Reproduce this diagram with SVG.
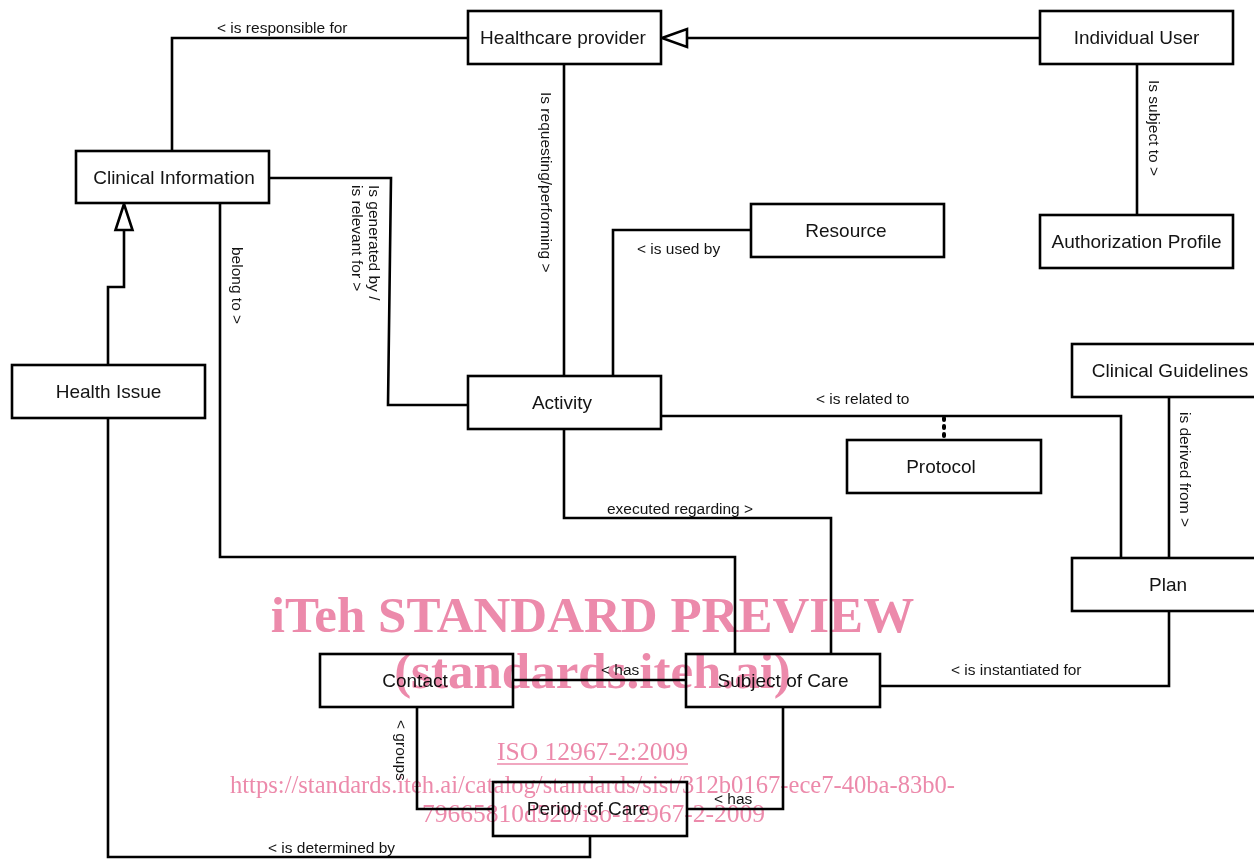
<svg xmlns="http://www.w3.org/2000/svg" width="1254" height="859" viewBox="0 0 1254 859">
  <style>
    .box { fill: #fff; stroke: #000; stroke-width: 2.6; }
    .name { font-family: "Liberation Sans", Arial, sans-serif; font-size: 19px; fill: #141414; text-anchor: middle; }
    .wire { fill: none; stroke: #000; stroke-width: 2.6; stroke-linejoin: miter; stroke-linecap: square; }
    .gen { fill: #fff; stroke: #000; stroke-width: 2.6; stroke-linejoin: miter; }
    .dots { fill: none; stroke: #000; stroke-width: 4; stroke-linecap: round; stroke-dasharray: 2 6; }
    .role { font-family: "Liberation Sans", Arial, sans-serif; font-size: 15.5px; fill: #141414; }
    .wm { font-family: "Liberation Serif", "Times New Roman", serif; fill: #ec8aab; text-anchor: middle; }
  </style>

  <rect width="1254" height="859" fill="#fff"/>

  <!-- associations and generalizations -->
  <g id="connectors">
    <path class="wire" d="M172,151 V38 H468"/>
    <path class="wire" d="M1040,38 H687"/>
    <polygon class="gen" points="662,38 687,29 687,47"/>
    <path class="wire" d="M1137,64 V215"/>
    <path class="wire" d="M564,64 V376"/>
    <path class="wire" d="M751,230 H613 V376"/>
    <path class="wire" d="M269,178 H391 L388,405 H468"/>
    <path class="wire" d="M220,203 V557 H735 V654"/>
    <path class="wire" d="M564,429 V518 H831 V654"/>
    <path class="wire" d="M661,416 H1121 V558"/>
    <path class="dots" d="M944,418 V440"/>
    <path class="wire" d="M1169,397 V558"/>
    <path class="wire" d="M1169,611 V686 H880"/>
    <path class="wire" d="M513,680 H686"/>
    <path class="wire" d="M417,707 V809 H493"/>
    <path class="wire" d="M783,707 V809 H687"/>
    <path class="wire" d="M108,418 V857 H590 V836"/>
    <path class="wire" d="M108,365 V287 H124 V230"/>
    <polygon class="gen" points="124,204 115.5,230 132.5,230"/>

    <text class="role" x="217" y="33">&lt; is responsible for</text>
    <text class="role" x="637" y="254">&lt; is used by</text>
    <text class="role" x="607" y="514">executed regarding &gt;</text>
    <text class="role" x="816" y="404">&lt; is related to</text>
    <text class="role" x="951" y="675">&lt; is instantiated for</text>
    <text class="role" x="601" y="675">&lt; has</text>
    <text class="role" x="714" y="804">&lt; has</text>
    <text class="role" x="268" y="853">&lt; is determined by</text>
    <text class="role" transform="translate(541,92) rotate(90)">Is requesting/performing &gt;</text>
    <text class="role" transform="translate(1149,80) rotate(90)">Is subject to &gt;</text>
    <text class="role" transform="translate(1180,412) rotate(90)">is derived from &gt;</text>
    <text class="role" transform="translate(232,247) rotate(90)">belong to &gt;</text>
    <text class="role" transform="translate(369,185) rotate(90)">Is generated by /</text>
    <text class="role" transform="translate(352,185) rotate(90)">is relevant for &gt;</text>
    <text class="role" transform="translate(396,720) rotate(90)">&lt; groups</text>
  </g>

  <!-- classes -->
  <g id="healthcare-provider">
    <rect class="box" x="468" y="11" width="193" height="53"/>
    <text class="name" x="563" y="44">Healthcare provider</text>
  </g>
  <g id="individual-user">
    <rect class="box" x="1040" y="11" width="193" height="53"/>
    <text class="name" x="1136.5" y="44">Individual User</text>
  </g>
  <g id="authorization-profile">
    <rect class="box" x="1040" y="215" width="193" height="53"/>
    <text class="name" x="1136.5" y="248">Authorization Profile</text>
  </g>
  <g id="clinical-information">
    <rect class="box" x="76" y="151" width="193" height="52"/>
    <text class="name" x="174" y="184">Clinical Information</text>
  </g>
  <g id="resource">
    <rect class="box" x="751" y="204" width="193" height="53"/>
    <text class="name" x="846" y="237">Resource</text>
  </g>
  <g id="activity">
    <rect class="box" x="468" y="376" width="193" height="53"/>
    <text class="name" x="562" y="409">Activity</text>
  </g>
  <g id="health-issue">
    <rect class="box" x="12" y="365" width="193" height="53"/>
    <text class="name" x="108.5" y="398">Health Issue</text>
  </g>
  <g id="protocol">
    <rect class="box" x="847" y="440" width="194" height="53"/>
    <text class="name" x="941" y="473">Protocol</text>
  </g>
  <g id="clinical-guidelines">
    <rect class="box" x="1072" y="344" width="194" height="53"/>
    <text class="name" x="1170" y="377">Clinical Guidelines</text>
  </g>
  <g id="plan">
    <rect class="box" x="1072" y="558" width="194" height="53"/>
    <text class="name" x="1168" y="591">Plan</text>
  </g>
  <g id="contact">
    <rect class="box" x="320" y="654" width="193" height="53"/>
    <text class="name" x="415" y="687">Contact</text>
  </g>
  <g id="subject-of-care">
    <rect class="box" x="686" y="654" width="194" height="53"/>
    <text class="name" x="783" y="687">Subject of Care</text>
  </g>
  <g id="period-of-care">
    <rect class="box" x="493" y="782" width="194" height="54"/>
    <text class="name" x="588" y="815">Period of Care</text>
  </g>

  <!-- publisher stamp across the lower half -->
  <g id="stamp" style="mix-blend-mode: multiply">
    <text class="wm" x="592.5" y="632" font-size="51" font-weight="bold">iTeh STANDARD PREVIEW</text>
    <text class="wm" x="592.5" y="688" font-size="51" font-weight="bold">(standards.iteh.ai)</text>
    <text class="wm" x="592.5" y="760" font-size="25.6">ISO 12967-2:2009</text>
    <line x1="497" y1="764" x2="688" y2="764" stroke="#ec8aab" stroke-width="1.4"/>
    <text class="wm" x="592.5" y="793" font-size="25.6" textLength="725" lengthAdjust="spacingAndGlyphs">https://standards.iteh.ai/catalog/standards/sist/312b0167-ece7-40ba-83b0-</text>
    <text class="wm" x="593.5" y="822" font-size="25.6" textLength="343" lengthAdjust="spacingAndGlyphs">79665810d52b/iso-12967-2-2009</text>
  </g>
</svg>
